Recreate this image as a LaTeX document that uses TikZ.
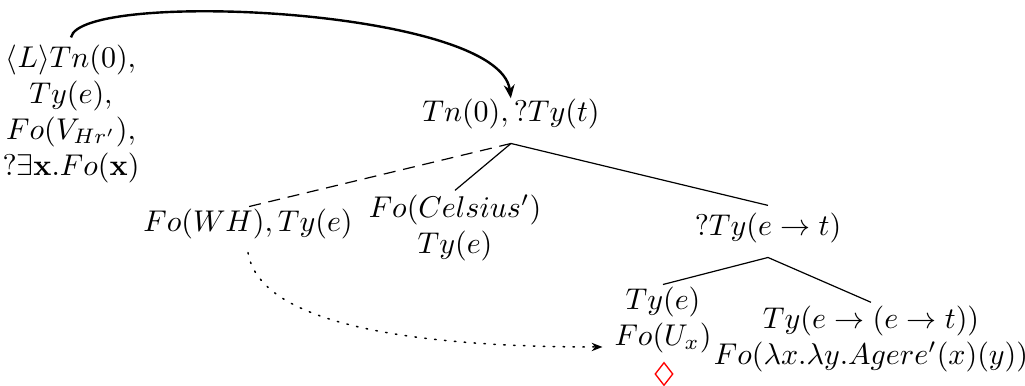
\documentclass[tikz,border=0pt]{standalone}
\usepackage{amsmath,amssymb}
\usetikzlibrary{arrows.meta,shapes.geometric}
\begin{document}
\begin{tikzpicture}[x=0.33333pt,y=-0.33333pt,
  tn/.style={align=center, inner sep=3.33pt},
  treeedge/.style={line width=0.4pt},
  unfixed/.style={line width=0.4pt, dash pattern=on 4pt off 2.6pt},
  linkarrow/.style={line width=0.8pt, -{Stealth[length=4.5pt,width=3.6pt]}, shorten >=0.5pt},
  varlink/.style={line width=0.5pt, dash pattern=on 0.5pt off 2.8pt, line cap=round, -{Stealth[length=3.6pt,width=2.8pt]}, shorten >=0.5pt},
  pointer/.style={diamond, draw=red, line width=0.45pt, minimum width=6pt, minimum height=7.7pt, inner sep=0pt}]
\useasboundingbox (0,0) rectangle (1025,386);

\node[tn] (lnk) at (71,114) {$\langle L\rangle Tn(0),$\\$Ty(e),$\\$Fo(V_{Hr'}),$\\$?\exists\mathbf{x}.Fo(\mathbf{x})$};
\node[tn] (root) at (511,114) {$Tn(0), ?Ty(t)$};
\node[tn] (wh) at (248,224) {$Fo(WH), Ty(e)$};
\node[tn] (cel) at (455,228) {$Fo(Celsius')$\\$Ty(e)$};
\node[tn] (vp) at (768,228) {$?Ty(e\rightarrow t)$};
\node[tn] (ue) at (663,320) {$Ty(e)$\\$Fo(U_x)$};
\node[tn] (pred) at (871,339) {$Ty(e\rightarrow(e\rightarrow t))$\\$Fo(\lambda x.\lambda y.Agere'(x)(y))$};
\node[pointer] (ptr) at (664,374) {};

\draw[unfixed] ([yshift=-1.3pt]root.south) -- ([yshift=-2.8pt]wh.north);
\draw[treeedge] ([yshift=-1.3pt]root.south) -- ([yshift=-2pt]cel.north);
\draw[treeedge] ([yshift=-1.3pt]root.south) -- ([yshift=-1pt]vp.north);
\draw[treeedge] ([yshift=-1.3pt]vp.south) -- ([yshift=-2.7pt]ue.north);
\draw[treeedge] ([yshift=-1.3pt]vp.south) -- ([yshift=-2.3pt]pred.north);

\draw[linkarrow] ([yshift=-1pt]lnk.north) .. controls +(9,-48) and +(-11,-92) .. ([yshift=-3.8pt]root.north);
\draw[varlink] ([yshift=-1pt]wh.south) .. controls +(12,74) and +(-182,0) .. ([yshift=-9pt]ue.west);
\end{tikzpicture}
\end{document}
